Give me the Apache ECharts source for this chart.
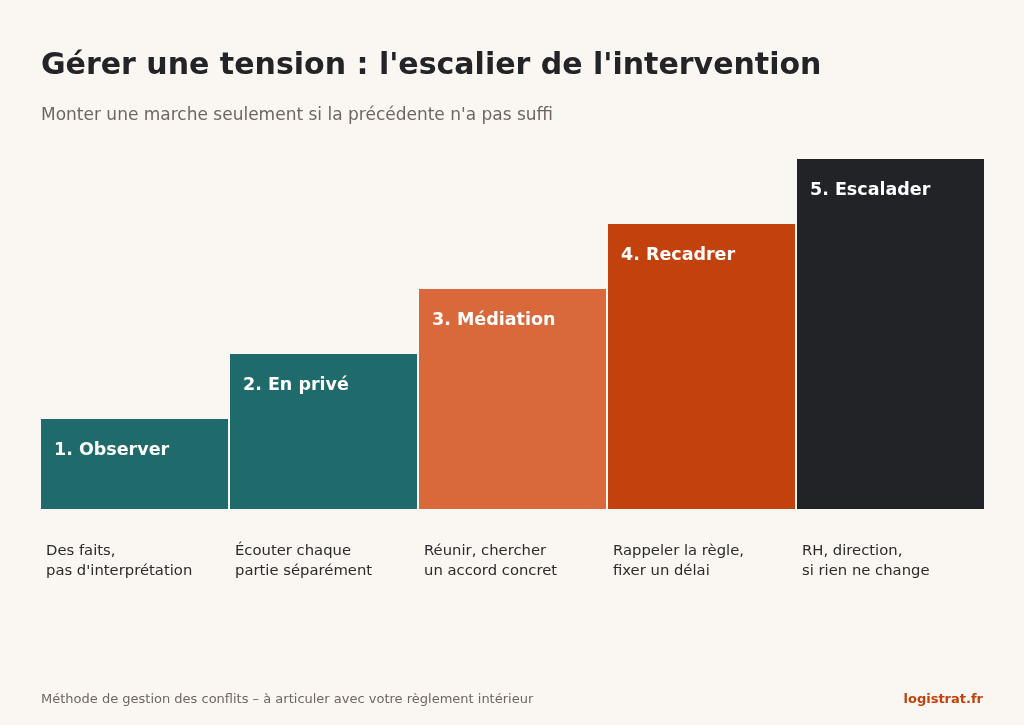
<!DOCTYPE html><html><head><meta charset="utf-8">
<script src="https://cdn.jsdelivr.net/npm/echarts@6/dist/echarts.min.js"></script>
<style>html,body{margin:0;background:#faf7f2}#c{width:1024px;height:725px}</style></head><body><div id="c"></div>
<script>
const steps=["1. Observer","2. En privé","3. Médiation","4. Recadrer","5. Escalader"];
const heights=[90,155,220,285,350];
const descriptions=["Des faits,\npas d'interprétation","Écouter chaque\npartie séparément","Réunir, chercher\nun accord concret","Rappeler la règle,\nfixer un délai","RH, direction,\nsi rien ne change"];
const colors=["#1f6b6b","#1f6b6b","#d9693b","#c2410d","#212327"];
const F="DejaVu Sans";
const chart=echarts.init(document.getElementById('c'));
chart.setOption({
 backgroundColor:"#faf7f2",animation:false,
 title:[{text:"Gérer une tension : l'escalier de l'intervention",left:36,top:46,textStyle:{fontFamily:F,fontSize:30,fontWeight:'bold',color:'#222428'}},
  {text:"Monter une marche seulement si la précédente n'a pas suffi",left:36,top:102,textStyle:{fontFamily:F,fontSize:17,fontWeight:'normal',color:'#6f6661'}},
  {text:"Méthode de gestion des conflits – à articuler avec votre règlement intérieur",left:36,top:688,textStyle:{fontFamily:F,fontSize:13,fontWeight:'normal',color:'#6f6661'}},
  {text:"logistrat.fr",right:36,top:688,textStyle:{fontFamily:F,fontSize:13,fontWeight:'bold',color:'#c2410d'}}],
 grid:{left:40,right:39,top:159,bottom:216},
 xAxis:{type:'category',data:steps,show:false},
 yAxis:{type:'value',min:0,max:350,show:false},
 series:[{type:'bar',barWidth:187,data:heights.map((v,i)=>({value:v,itemStyle:{color:colors[i]}})),
   label:{show:true,position:'insideTopLeft',offset:[8,17],formatter:p=>steps[p.dataIndex],color:'#fff',fontFamily:F,fontSize:17.5,fontWeight:'bold'}},
  {type:'custom',data:descriptions.map((d,i)=>[i,0]),renderItem:(params,api)=>{
    const p=api.coord([api.value(0),0]);const w=api.size([1,0])[0];
    return {type:'text',style:{text:descriptions[params.dataIndex],x:p[0]-w/2+6,y:p[1]+32,fill:'#2b2b2b',font:'14.8px "DejaVu Sans"',lineHeight:20,textVerticalAlign:'top'}};
  }}]
});
</script></body></html>
